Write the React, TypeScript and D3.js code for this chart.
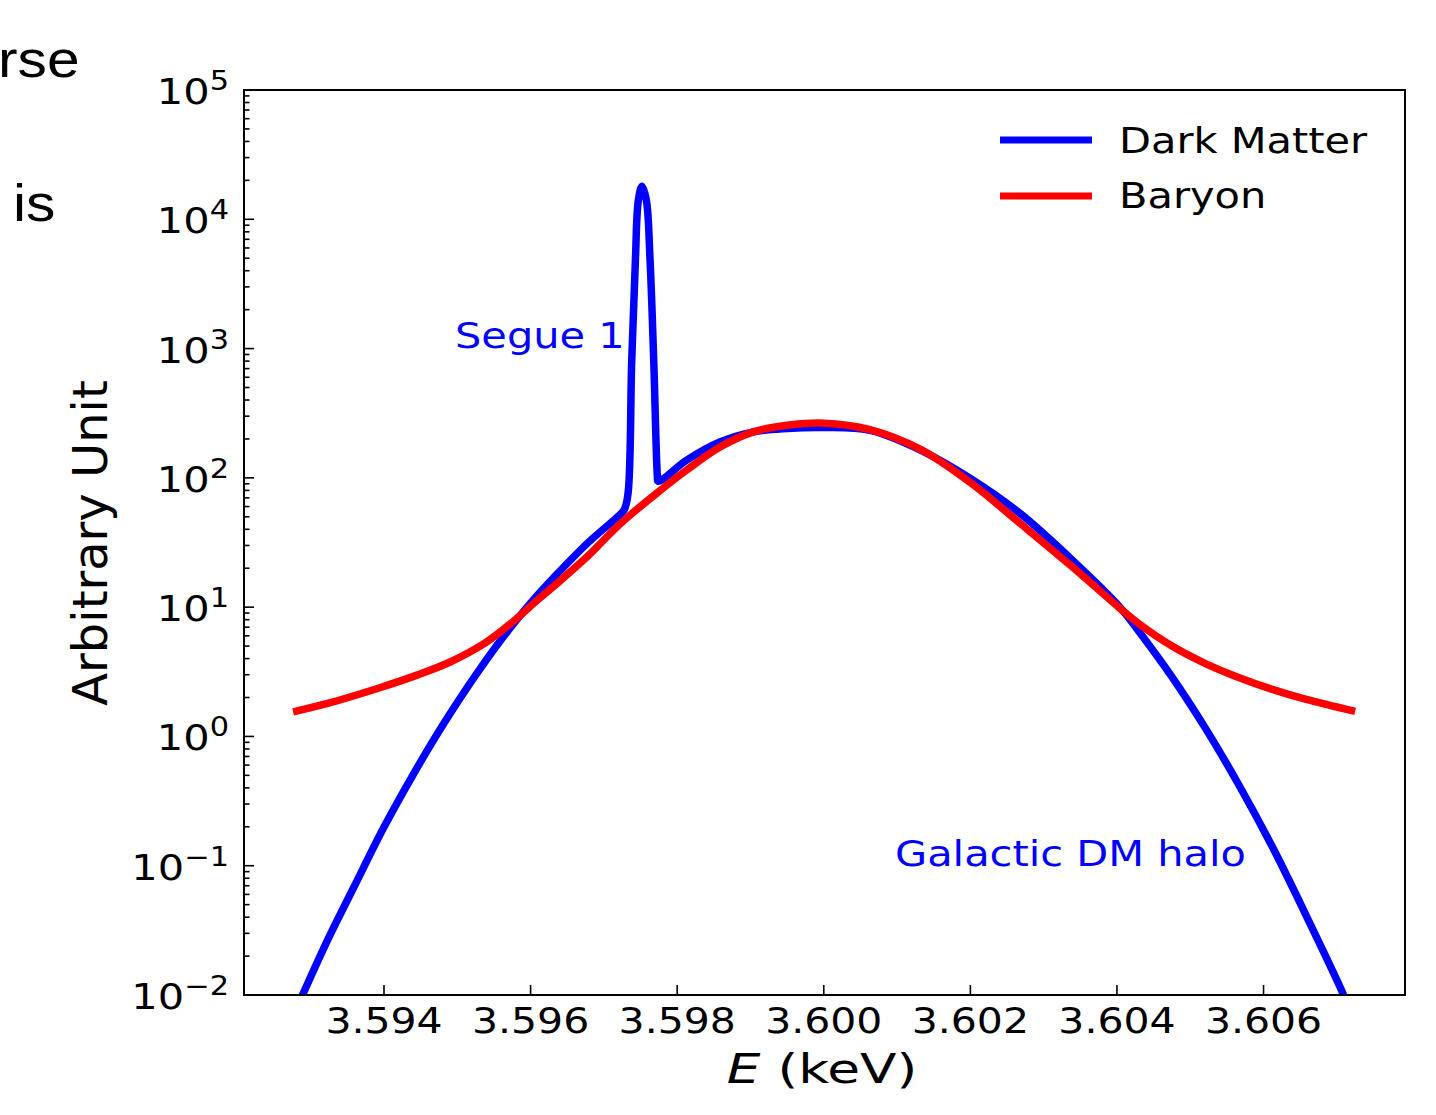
import * as d3 from "d3";

// Dark Matter line (blue): Galactic halo plus the narrow Segue 1 line
const E_DM = [
  3.59286, 3.59323, 3.59359, 3.594, 3.59441, 3.59482, 3.59527, 3.59573, 3.59609, 3.59631,
  3.59677, 3.59722, 3.59728, 3.59733, 3.59738, 3.59743, 3.59747, 3.59752, 3.59758, 3.59763,
  3.59768, 3.59773, 3.59774, 3.59813, 3.59859, 3.59904, 3.5995, 3.6, 3.60063, 3.60132,
  3.602, 3.60268, 3.60336, 3.60404, 3.60429, 3.60475, 3.6052, 3.60566, 3.60612, 3.60657,
  3.60707, 3.60712,
];
const DM = [
  0.0092, 0.0266, 0.0684, 0.199, 0.521, 1.27, 3.09, 7.0, 12.3, 16.8,
  31, 52, 57, 76, 813, 4820, 14000, 18000, 14000, 4820,
  813, 103, 94, 137, 190, 227, 241, 245, 233, 164,
  99, 53, 24, 10.0, 6.6, 2.89, 1.175, 0.425, 0.14, 0.0425,
  0.0107, 0.0091,
];

// Baryon line (red)
const E_BARYON = [
  3.59276, 3.59323, 3.59391, 3.59445, 3.59491, 3.59537, 3.59573, 3.59609, 3.59631, 3.59677,
  3.59722, 3.59777, 3.59813, 3.59859, 3.59904, 3.5995, 3.6, 3.60063, 3.60132, 3.602,
  3.60268, 3.60336, 3.60404, 3.60429, 3.60475, 3.6052, 3.60566, 3.60612, 3.60657, 3.60725,
];
const BARYON = [
  1.55, 1.8, 2.35, 2.98, 3.78, 5.24, 7.48, 11.3, 14.4, 24.5,
  44, 80, 115, 174, 227, 255, 265, 236, 166, 92,
  44.4, 21.2, 9.8, 7.5, 5.0, 3.68, 2.86, 2.31, 1.94, 1.56,
];

const X_TICKS = [3.594, 3.596, 3.598, 3.6, 3.602, 3.604, 3.606];
const Y_EXPONENTS = [-2, -1, 0, 1, 2, 3, 4, 5];
const LEGEND = ["Dark Matter", "Baryon"];

const W = 1436;
const H = 1115;
const LEFT = 244;
const RIGHT = 1405;
const TOP = 90;
const BOTTOM = 995;
const SX = 1.17;
const FONT = "DejaVu Sans";

function SText({ x, y, size, anchor = "start", fill = "black", sx = SX, family = FONT, children }: any) {
  return (
    <g transform={`translate(${x},${y}) scale(${sx},1)`}>
      <text textAnchor={anchor} fontSize={size} fill={fill} fontFamily={family}>
        {children}
      </text>
    </g>
  );
}

export default function App() {
  const x = d3.scaleLinear().domain([3.59209, 3.60793]).range([LEFT, RIGHT]);
  const y = d3.scaleLog().domain([1e-2, 1e5]).range([BOTTOM, TOP]);

  const line = d3
    .line<[number, number]>()
    .x((d) => x(d[0]))
    .y((d) => y(d[1]))
    .curve(d3.curveCatmullRom.alpha(0.5));

  const dmPts = E_DM.map((e, i) => [e, DM[i]] as [number, number]);
  const baryonPts = E_BARYON.map((e, i) => [e, BARYON[i]] as [number, number]);

  const yTicks = y.ticks();
  const fmt = d3.format(".3f");

  return (
    <svg width={W} height={H} style={{ position: "absolute", left: 0, top: 0, background: "white" }}>
      <defs>
        <clipPath id="plot">
          <rect x={LEFT} y={TOP} width={RIGHT - LEFT} height={BOTTOM - TOP} />
        </clipPath>
      </defs>

      {/* cut-off text from the neighbouring slide */}
      <SText x={-2} y={77} size={52} sx={1.13} family="Liberation Sans">rse</SText>
      <SText x={13} y={221} size={52} sx={1.13} family="Liberation Sans">is</SText>

      <g clipPath="url(#plot)">
        <path d={line(dmPts) ?? ""} fill="none" stroke="#0000ff" strokeWidth={7.5} strokeLinejoin="round" />
        <path d={line(baryonPts) ?? ""} fill="none" stroke="#ff0000" strokeWidth={7.5} strokeLinejoin="round" />
      </g>

      {/* frame */}
      <rect x={LEFT} y={TOP} width={RIGHT - LEFT} height={BOTTOM - TOP} fill="none" stroke="black" strokeWidth={2} />

      {/* y ticks, inside */}
      {yTicks.map((t) => {
        const major = Math.abs(Math.log10(t) - Math.round(Math.log10(t))) < 1e-9;
        return (
          <line key={`yt-${t}`} x1={LEFT} x2={LEFT + (major ? 10 : 5.5)} y1={y(t)} y2={y(t)} stroke="black" strokeWidth={1.6} />
        );
      })}
      {Y_EXPONENTS.map((k) => (
        <g key={`yl-${k}`} transform={`translate(229,${y(Math.pow(10, k)) + 14}) scale(${SX},1)`}>
          <text textAnchor="end" fontFamily={FONT} fontSize={35.5} fill="black">
            10
            <tspan dy={-14} fontSize={26}>{k < 0 ? `\u2212${-k}` : k}</tspan>
          </text>
        </g>
      ))}

      {/* x ticks, inside */}
      {X_TICKS.map((t) => (
        <g key={`xt-${t}`}>
          <line x1={x(t)} x2={x(t)} y1={BOTTOM} y2={BOTTOM - 10} stroke="black" strokeWidth={1.6} />
          <SText x={x(t)} y={1033} size={35} anchor="middle">{fmt(t)}</SText>
        </g>
      ))}

      {/* axis labels */}
      <g transform="translate(822,1083) scale(1.3,1)">
        <text textAnchor="middle" fontFamily={FONT} fontSize={41} fill="black">
          <tspan fontStyle="oblique">E</tspan> (keV)
        </text>
      </g>
      <text transform="translate(107,543) rotate(-90)" textAnchor="middle" fontFamily={FONT} fontSize={48} fill="black">
        Arbitrary Unit
      </text>

      {/* annotations */}
      <SText x={455} y={348} size={35.5} fill="#0000ff">Segue 1</SText>
      <SText x={895} y={866} size={35.5} fill="#0000ff">Galactic DM halo</SText>

      {/* legend */}
      {LEGEND.map((name, i) => (
        <g key={name}>
          <line x1={1000} x2={1092} y1={140 + i * 56} y2={140 + i * 56} stroke={i === 0 ? "#0000ff" : "#ff0000"} strokeWidth={7} />
          <SText x={1119} y={153 + i * 55} size={35.5}>{name}</SText>
        </g>
      ))}
    </svg>
  );
}
